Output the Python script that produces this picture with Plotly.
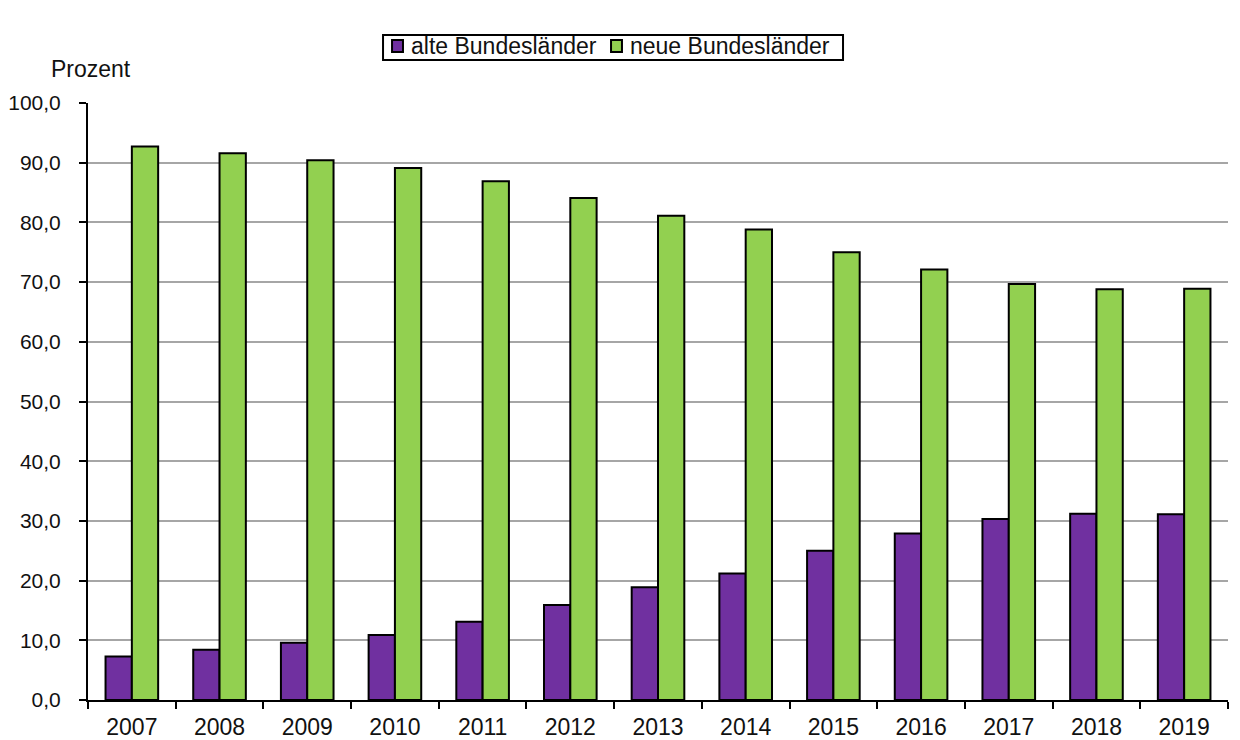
import plotly.graph_objects as go

years = ["2007", "2008", "2009", "2010", "2011", "2012", "2013",
         "2014", "2015", "2016", "2017", "2018", "2019"]
alte = [7.3, 8.4, 9.6, 10.9, 13.1, 15.9, 18.9, 21.2, 25.0, 27.9, 30.3, 31.2, 31.1]
neue = [92.7, 91.6, 90.4, 89.1, 86.9, 84.1, 81.1, 78.8, 75.0, 72.1, 69.7, 68.8, 68.9]

series_names = ["alte Bundesländer", "neue Bundesländer"]
series_colors = ["#7030a0", "#92d050"]

font_family = "Liberation Sans, Arial, sans-serif"

fig = go.Figure()

for name, vals, col in zip(series_names, [alte, neue], series_colors):
    fig.add_trace(go.Bar(
        x=years, y=vals, name=name,
        marker=dict(color=col, line=dict(color="#000000", width=2)),
        showlegend=False,
    ))

fig.update_layout(
    width=1240, height=740,
    paper_bgcolor="white", plot_bgcolor="white",
    margin=dict(l=80, r=20, t=95, b=48),
    barmode="group", bargap=0.4, bargroupgap=0,
    separators=",.",
    font=dict(family=font_family, size=22, color="#111111"),
)

fig.update_yaxes(
    range=[0, 100], dtick=10, tickformat=".1f",
    showgrid=True, gridcolor="#a6a6a6", gridwidth=1.5,
    showline=True, linecolor="#000000", linewidth=2,
    ticks="outside", ticklen=7, tickcolor="#000000", tickwidth=2,
    ticklabelstandoff=14,
    tickfont=dict(size=21),
    zeroline=False, automargin=False,
)
fig.update_xaxes(
    showline=True, linecolor="#000000", linewidth=2,
    ticks="outside", ticklen=7, tickcolor="#000000", tickwidth=2,
    tickson="boundaries", ticklabelstandoff=5,
    showgrid=False, automargin=False,
    tickfont=dict(size=23),
)

# legend box drawn by hand (Excel-style, tight border)
fig.add_shape(type="rect", xref="paper", yref="paper",
              x0=0.2588, x1=0.6623, y0=1.072, y1=1.1139,
              line=dict(color="#000000", width=2), fillcolor="white")
legend_pos = [(0.2667, 0.2763, 0.2815), (0.4588, 0.4684, 0.4736)]
for (sx0, sx1, tx), name, col in zip(legend_pos, series_names, series_colors):
    fig.add_shape(type="rect", xref="paper", yref="paper",
                  x0=sx0, x1=sx1, y0=1.0854, y1=1.1055,
                  line=dict(color="#000000", width=2), fillcolor=col)
    fig.add_annotation(text=name, xref="paper", yref="paper",
                       x=tx, y=1.0955, xanchor="left", yanchor="middle",
                       showarrow=False, font=dict(size=23))

fig.add_annotation(
    text="Prozent", xref="paper", yref="paper",
    x=-0.0342, y=1.057, xanchor="left", yanchor="middle",
    showarrow=False, font=dict(size=23),
)

fig.write_html("out.html")
